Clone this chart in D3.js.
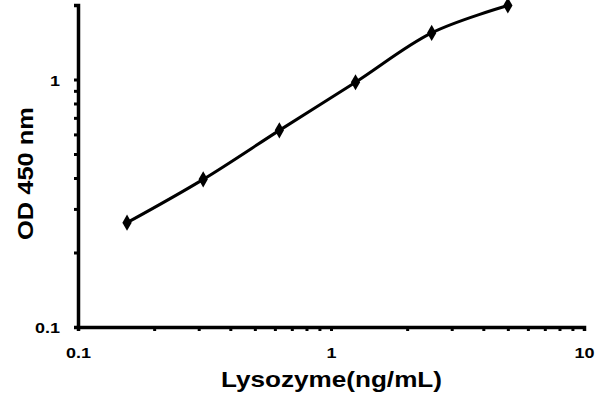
<!DOCTYPE html>
<html><head><meta charset="utf-8">
<script src="https://cdn.jsdelivr.net/npm/d3@7"></script>
<style>body{margin:0;background:#fff}svg{display:block}text{font-family:"Liberation Sans",Arial,sans-serif;font-weight:bold}</style>
</head><body><svg id="c" width="600" height="396"></svg>
<script>
const concentrations = [0.15625, 0.3125, 0.625, 1.25, 2.5, 5];
const odValues = [0.264, 0.395, 0.623, 0.975, 1.543, 1.99];
const xTickLabels = ["0.1", "1", "10"];
const yTickLabels = ["0.1", "1"];
const xTitle = "Lysozyme(ng/mL)";
const yTitle = "OD 450 nm";

const svg = d3.select("#c");
const x = d3.scaleLog().domain([0.1, 10]).range([78, 584]);
const y = d3.scaleLog().domain([0.1, 2]).range([327, 5]);

const xMinor = [];
for (let d = 0.1; d < 10; d *= 10) for (let k = 1; k <= 10; k++) xMinor.push(+(d * k).toPrecision(3));
const yMinor = [];
for (let k = 1; k <= 10; k++) yMinor.push(+(0.1 * k).toPrecision(3));
yMinor.push(2);

const gx = svg.append("g").attr("transform", "translate(0,327)")
  .call(d3.axisBottom(x).tickValues(Array.from(new Set(xMinor))).tickSize(4).tickFormat(d => xTickLabels.includes(String(d)) ? String(d) : ""));
const gy = svg.append("g").attr("transform", "translate(78,0)")
  .call(d3.axisLeft(y).tickValues(yMinor).tickSize(4).tickFormat(d => yTickLabels.includes(String(d)) ? String(d) : ""));
[gx, gy].forEach(g => {
  g.attr("font-size", null).attr("font-family", null);
  g.select(".domain").attr("stroke", "#000").attr("stroke-width", 3.5);
  g.selectAll(".tick line").attr("stroke", "#000").attr("stroke-width", 3);
  g.selectAll(".tick text").attr("fill", "#000").attr("font-size", 15.5).style("font-size", "15.5px");
});
gx.selectAll(".tick text").attr("dy", "0").attr("y", 358).attr("transform", "translate(0,-327) scale(1.16,1)");
gy.selectAll(".tick text").attr("x", -18 / 1.16).attr("dy", "0.36em").attr("text-anchor", "end").attr("transform", "scale(1.16,1)");

const pts = concentrations.map((c, i) => [c, odValues[i]]);
svg.append("path").datum(pts)
  .attr("fill", "none").attr("stroke", "#000").attr("stroke-width", 3)
  .attr("d", d3.line().x(d => x(d[0])).y(d => y(d[1])).curve(d3.curveCatmullRom.alpha(0.5)));
svg.append("g").selectAll("path").data(pts).join("path")
  .attr("transform", d => `translate(${x(d[0])},${y(d[1])})`)
  .attr("d", d3.symbol(d3.symbolDiamond, 75)).attr("fill", "#000");

svg.append("text").attr("x", 221).attr("y", 387)
  .attr("textLength", 221).attr("lengthAdjust", "spacingAndGlyphs")
  .style("font-size", "21.5px").attr("fill", "#000").text(xTitle);
svg.append("text").attr("transform", "translate(33,240) rotate(-90)")
  .attr("textLength", 133).attr("lengthAdjust", "spacingAndGlyphs")
  .style("font-size", "21.5px").attr("fill", "#000").text(yTitle);
</script></body></html>
